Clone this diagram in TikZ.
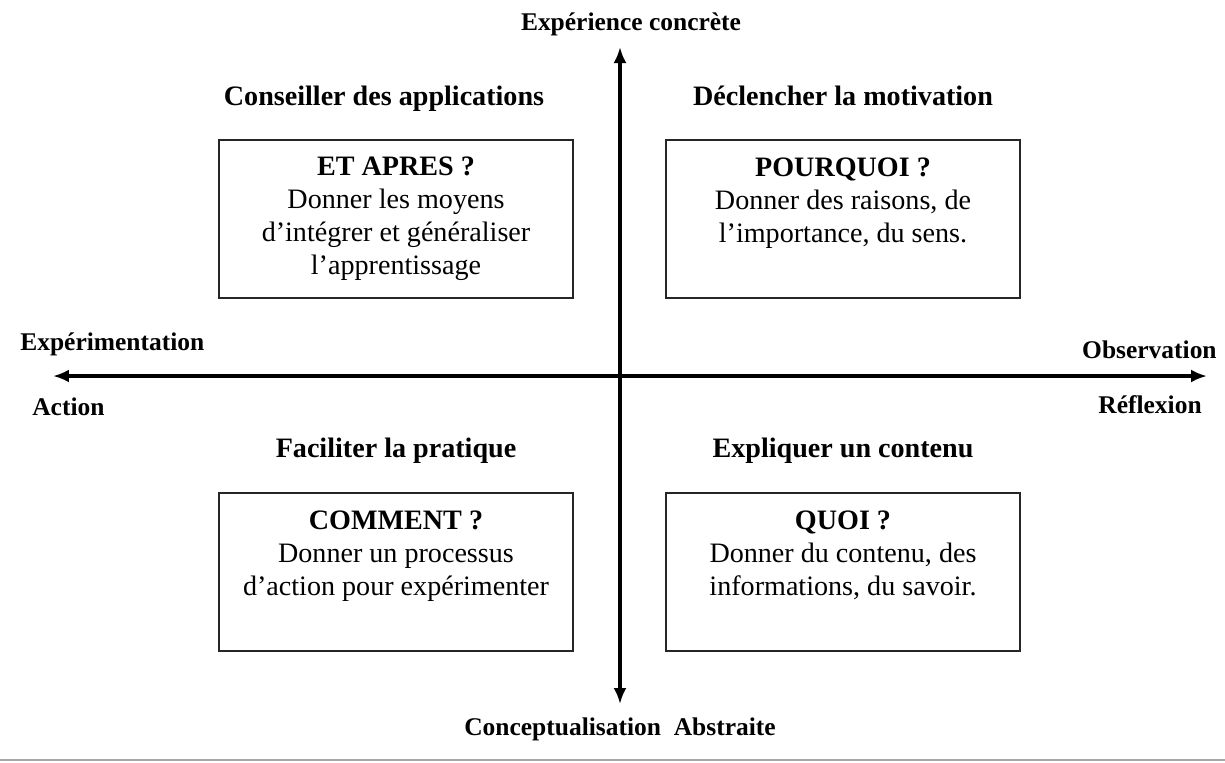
\documentclass[tikz,border=0pt]{standalone}
\usepackage{fontspec}
\setmainfont{Liberation Serif}
\usetikzlibrary{arrows.meta}

\tikzset{
  axis/.style={line width=1.8pt, {Latex[length=3.2mm,width=2.6mm]}-{Latex[length=3.2mm,width=2.6mm]}},
  quadbox/.style={draw=black!85, line width=1.1pt, minimum width=7.08cm, minimum height=3.16cm, inner sep=0pt},
  quadtext/.style={align=center, inner sep=0pt, anchor=north, font=\fontsize{16}{18.8}\selectfont},
  quadtitle/.style={inner sep=0pt, anchor=base, font=\fontsize{16}{19}\selectfont\bfseries},
  axislabel/.style={inner sep=0pt, font=\fontsize{14.5}{17}\selectfont\bfseries}
}

\begin{document}
\begin{tikzpicture}[x=0.02cm,y=-0.02cm]
\useasboundingbox (0,0) rectangle (1225,762);
\coordinate (top) at (620,47); % Axis.experience
\coordinate (bot) at (620,704); % Axis.conceptualisation
\coordinate (left) at (53,376); % Axis.action
\coordinate (right) at (1207,376); % Axis.reflexion
\draw[axis] (bot) -- (top); % Axis.vertical
\draw[axis] (left) -- (right); % Axis.horizontal
\node[axislabel, anchor=base] (toplab) at (631,30) {Expérience concrète}; % Axis.experience
\node[axislabel, anchor=base] (botlab) at (620,735) {Conceptualisation\ \ Abstraite}; % Axis.conceptualisation
\node[axislabel, anchor=base west] (explab) at (20,350) {Expérimentation}; % Axis.action
\node[axislabel, anchor=base west] (actlab) at (32,415) {Action}; % Axis.action
\node[axislabel, anchor=base east] (obslab) at (1217,358) {Observation}; % Axis.reflexion
\node[axislabel, anchor=base east] (reflab) at (1202,413) {Réflexion}; % Axis.reflexion
\node[quadbox] (tl) at (396,219) {}; % Quad.apres
\node[quadbox] (tr) at (843,219) {}; % Quad.pourquoi
\node[quadbox] (bl) at (396,572) {}; % Quad.comment
\node[quadbox] (br) at (843,572) {}; % Quad.quoi
\node[quadtitle] (tltitle) at (384,105) {Conseiller des applications}; % Quad.apres
\node[quadtitle] (trtitle) at (843,105) {Déclencher la motivation}; % Quad.pourquoi
\node[quadtitle] (bltitle) at (396,457) {Faciliter la pratique}; % Quad.comment
\node[quadtitle] (brtitle) at (843,457) {Expliquer un contenu}; % Quad.quoi
\node[quadtext] (tltext) at ([yshift=-0.34cm]tl.north) {\textbf{ET APRES ?}\\Donner les moyens\\d’intégrer et généraliser\\l’apprentissage}; % Quad.apres
\node[quadtext] (trtext) at ([yshift=-0.36cm]tr.north) {\textbf{POURQUOI ?}\\Donner des raisons, de\\l’importance, du sens.}; % Quad.pourquoi
\node[quadtext] (bltext) at ([yshift=-0.36cm]bl.north) {\textbf{COMMENT ?}\\Donner un processus\\d’action pour expérimenter}; % Quad.comment
\node[quadtext] (brtext) at ([yshift=-0.36cm]br.north) {\textbf{QUOI ?}\\Donner du contenu, des\\informations, du savoir.}; % Quad.quoi
\draw[gray!70, line width=1.2pt] (0,760) -- (1225,760); % Frame.bottom
\end{tikzpicture}
\end{document}
